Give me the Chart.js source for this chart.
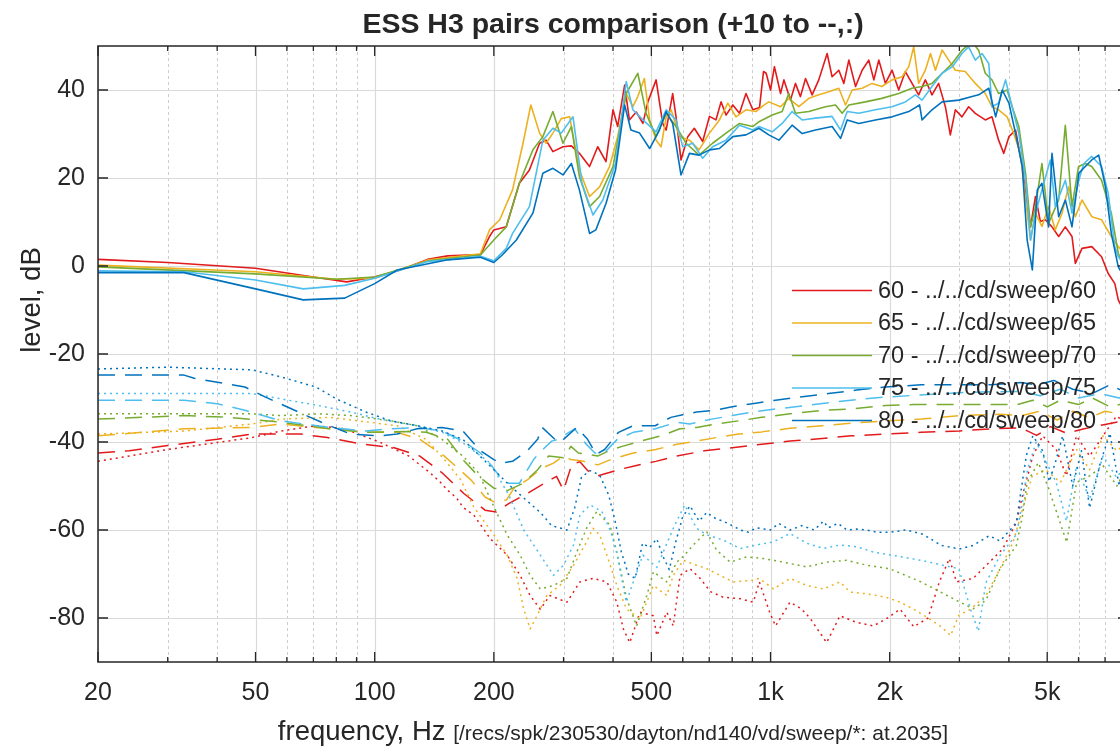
<!DOCTYPE html>
<html>
<head>
<meta charset="utf-8">
<title>ESS H3 pairs comparison</title>
<script src="https://cdn.jsdelivr.net/npm/chart.js@4.4.1/dist/chart.umd.min.js"></script>
<style>
  html, body { margin: 0; padding: 0; background: #ffffff; overflow: hidden; }
  #wrap { width: 1120px; height: 748px; overflow: hidden; position: relative; }
  canvas { display: block; }
</style>
</head>
<body>
<div id="wrap"><canvas id="plot" width="1132" height="748"></canvas></div>
<script>
// ---- axis ticks ----
const X_MIN = 20, X_MAX = 8000, Y_MIN = -90, Y_MAX = 50;
const xMajorTicks = [20, 50, 100, 200, 500, 1000, 2000, 5000];
const xTickLabels = ['20', '50', '100', '200', '500', '1k', '2k', '5k'];
const xMinorTicks = [30, 40, 60, 70, 80, 90, 300, 400, 600, 700, 800, 900, 3000, 4000, 6000, 7000];
const yTicks = [-80, -60, -40, -20, 0, 20, 40];

// ---- series names / colours ----
const legendNames = ['60 - ../../cd/sweep/60', '65 - ../../cd/sweep/65', '70 - ../../cd/sweep/70',
                     '75 - ../../cd/sweep/75', '80 - ../../cd/sweep/80'];
const seriesColors = ['#e31a1c', '#edb120', '#77ac30', '#4dbeee', '#0072bd'];

// ---- solid curves: frequency (Hz) / level (dB) ----
const F60s = [20, 30, 50, 70, 85, 100, 115, 136, 153, 185,
  195, 200, 215, 232, 246, 261, 271, 282, 299, 314,
  329, 349, 366, 384, 400, 411, 428, 440, 458, 476,
  490, 514, 534, 545, 566, 577, 594, 618, 642, 674,
  701, 728, 750, 772, 803, 835, 867, 902, 938, 960,
  975, 1000, 1023, 1060, 1081, 1123, 1156, 1190, 1226, 1274,
  1324, 1390, 1431, 1488, 1532, 1577, 1640, 1704, 1771, 1824,
  1877, 1951, 2028, 2108, 2191, 2278, 2367, 2461, 2558, 2659,
  2765, 2846, 2930, 3045, 3166, 3291, 3488, 3626, 3769, 3884,
  4002, 4160, 4325, 4410, 4538, 4670, 4806, 4946, 5141, 5345,
  5556, 5776, 5889, 6122, 6480, 6860, 7130, 7410, 7560, 8000];
const L60s = [1.5, 0.8, -0.5, -2.5, -3.6, -2.5, -1, 1.5, 2.3, 2.6,
  6.7, 8.2, 8.9, 18.8, 21.8, 27.9, 28.6, 26, 27.1, 27.3,
  25.6, 22.6, 27.1, 23.7, 35.5, 31.7, 41.1, 33.2, 35, 32.4,
  37.3, 42.3, 32.4, 30.9, 39.2, 34, 24.1, 29.4, 31.3, 28.3,
  34, 33.2, 37.3, 34.3, 36.6, 34.7, 39.2, 35.5, 36, 44.2,
  43.8, 40, 45.3, 39.2, 42.3, 37.7, 41.5, 38.5, 42.6, 38.9,
  42.3, 48.3, 43, 44.5, 41.5, 46.8, 40.8, 44.5, 46.8, 42.3,
  46.8, 41.5, 44.5, 40, 44.2, 41.5, 38.9, 42.3, 38.9, 41.5,
  36.2, 29.8, 35.5, 33.9, 36.2, 34.7, 33.2, 33.9, 28.6, 25.6,
  29.4, 30.9, 22.6, 16.5, 8.9, 15.8, 10.1, 10.5, 8.9, 6.7,
  8.9, 6.7, 0.6, 4, 4.4, 2.1, -1.7, -4, -7.7, -12];

const F65s = [20, 50, 80, 100, 137, 185, 195, 207, 223, 237,
  248, 261, 271, 282, 296, 311, 329, 349, 370, 392,
  411, 432, 449, 462, 480, 495, 514, 529, 545, 561,
  589, 624, 660, 701, 743, 780, 818, 867, 919, 960,
  990, 1060, 1112, 1179, 1250, 1325, 1404, 1488, 1547, 1608,
  1704, 1806, 1911, 2028, 2150, 2235, 2300, 2367, 2461, 2536,
  2610, 2713, 2820, 2930, 3104, 3291, 3488, 3626, 3769, 3960,
  4115, 4277, 4410, 4538, 4670, 4850, 5040, 5240, 5450, 5660,
  5889, 6122, 6480, 6860, 7260, 7560, 8000];
const L65s = [0.2, -1.3, -3, -2.8, 1.4, 2.8, 8.2, 10.5, 17.3, 27.9,
  36.6, 30.2, 27.9, 30.2, 33.5, 33.9, 21.8, 15.8, 18, 22.6,
  29.4, 39.2, 36.2, 38.5, 42.6, 33.2, 28.6, 27.1, 33.9, 35.5,
  29.4, 28.6, 26.4, 30.2, 33.2, 37, 33.9, 35.5, 35.1, 36.5,
  37.3, 36.2, 38.1, 36.2, 38.1, 38.9, 39.6, 40.4, 36.6, 40,
  40.4, 41.5, 40.8, 42.3, 43, 45.3, 49.8, 41.5, 44.5, 48.3,
  44.5, 49.1, 46.8, 44.5, 44.2, 41.5, 39.2, 36.2, 35.5, 33.9,
  30.1, 25.6, 15, 5.9, 12, 9, 13.5, 8.2, 12, 18,
  11.2, 15, 11.2, 10.5, 6.7, 4.4, 2];

const F70s = [20, 50, 80, 100, 137, 185, 200, 215, 232, 251,
  266, 282, 299, 314, 329, 349, 370, 400, 432, 462,
  485, 514, 545, 577, 612, 660, 714, 772, 835, 902,
  935, 1010, 1070, 1112, 1156, 1250, 1377, 1459, 1517, 1577,
  1737, 1911, 2108, 2278, 2414, 2558, 2713, 2877, 3045, 3230,
  3357, 3488, 3626, 3769, 3960, 4077, 4240, 4410, 4538, 4670,
  4850, 5040, 5345, 5556, 5776, 6000, 6240, 6480, 6860, 7260,
  7560, 8000];
const L70s = [-0.2, -1.8, -3, -2.5, 1.2, 2.5, 5.9, 8.9, 18.8, 26.4,
  29.4, 35.1, 27.9, 31.7, 20.3, 13.5, 15.8, 22.6, 39.2, 43.8,
  34.7, 29.4, 34.7, 31.7, 27.9, 25.2, 27.9, 30.2, 32.4, 31.7,
  32.8, 34.3, 35.1, 39.2, 34.7, 35.1, 36.2, 36.6, 34.7, 36.6,
  37.3, 38.1, 39.2, 40.4, 40.8, 41.5, 43.8, 46, 49, 51,
  49, 43.8, 42.3, 39.2, 40, 36.2, 31.7, 21, 8.9, 13.5,
  23.3, 9.7, 15, 32, 13.5, 22.6, 23.3, 22.6, 19.5, 12,
  2.9, -2];

const F75s = [20, 33, 50, 66, 84, 100, 136, 185, 200, 215,
  223, 246, 266, 282, 296, 317, 334, 356, 377, 406,
  432, 449, 476, 514, 545, 577, 600, 636, 674, 714,
  772, 835, 902, 935, 1010, 1070, 1134, 1202, 1299, 1430,
  1503, 1562, 1671, 1841, 2028, 2191, 2324, 2414, 2558, 2713,
  2880, 3045, 3166, 3291, 3423, 3560, 3626, 3769, 3924, 4077,
  4240, 4410, 4538, 4670, 4850, 5091, 5240, 5556, 5776, 6010,
  6190, 6480, 6860, 7130, 7410, 7560, 8000];
const L75s = [-1.1, -1.3, -3.2, -5.2, -4.4, -2.8, 1, 2.2, 1.2, 4,
  7.4, 13.5, 28.6, 31.3, 30.2, 33.9, 18.8, 11.6, 15, 23.3,
  41.9, 35.5, 33.2, 30.5, 35.5, 33.2, 27.1, 27.9, 24.5, 27.1,
  28.6, 32, 30.9, 31.7, 30.5, 32.4, 35.1, 33.2, 33.6, 34,
  30.9, 35.1, 34.7, 35.5, 36.2, 37.3, 38.9, 37.7, 40.8, 43.8,
  45.3, 48.3, 49.8, 46.8, 48.3, 46, 36.2, 37, 42.3, 36.2,
  30.1, 19.5, 5.9, 12, 17.3, 24.1, 13.5, 19.5, 12, 19.5,
  23.3, 24.9, 22.6, 16.5, 4.4, 2.1, -1];

const F80s = [20, 33, 50, 66, 84, 100, 114, 153, 185, 200,
  210, 228, 251, 266, 282, 299, 314, 329, 349, 362,
  384, 406, 428, 444, 467, 495, 524, 545, 566, 594,
  624, 660, 701, 743, 803, 867, 935, 990, 1050, 1134,
  1202, 1299, 1431, 1503, 1562, 1671, 1841, 2028, 2235, 2380,
  2414, 2558, 2713, 2990, 3230, 3357, 3560, 3705, 3850, 4002,
  4160, 4325, 4450, 4586, 4720, 4850, 5040, 5141, 5345, 5556,
  5776, 6010, 6240, 6480, 6747, 7017, 7260, 7560, 8000];
const L80s = [-1.5, -1.5, -5.2, -7.7, -7.3, -4, -0.9, 1.4, 2, 0.8,
  2.5, 5.9, 12, 21.1, 22.2, 20.7, 23.3, 17.3, 7.4, 8.2,
  14.2, 21.8, 36.6, 30.9, 30.2, 26.7, 30.9, 35.1, 32.4, 20.7,
  25.6, 25.2, 26.4, 26.7, 29.4, 29.8, 31.3, 29.8, 28.6, 32,
  30.1, 30.9, 31.7, 29, 33.2, 32.4, 33.2, 33.9, 35.1, 36.6,
  33.2, 35.5, 37.3, 37.7, 38.5, 38.9, 40.4, 33.9, 40, 37,
  30.1, 22.6, 5.9, -0.9, 17.3, 18.8, 8.9, 25.6, 11.2, 15,
  8.9, 21.1, 22.6, 24.1, 25.2, 18, 7.4, -0.2, -4];

// ---- dashed curves ----
const F60d = [20, 24, 30, 40, 49, 65, 76, 93, 112, 130,
  148, 168, 190, 203, 218, 243, 268, 288, 300, 315,
  330, 345, 366, 413, 450, 513, 580, 680, 800, 950,
  1120, 1350, 1600, 1950, 2400, 3000, 3600, 4300, 4700, 5100,
  5600, 6200, 7000, 8000];
const L60d = [-42.5, -42, -40.8, -39.4, -38.2, -38.2, -39, -40.5, -41.3, -43.2,
  -47, -51.7, -55.5, -55.9, -54, -51.7, -49.4, -47.8, -51, -45,
  -44.5, -46.5, -47.7, -46.3, -45.5, -44.4, -43.2, -42, -41.3, -40.5,
  -39.8, -39.2, -38.6, -38.2, -37.8, -37.5, -37, -36.8, -38.5, -36.5,
  -38, -37, -36, -35];

const F65d = [20, 33, 49, 58, 77, 95, 114, 130, 150, 175,
  190, 200, 215, 225, 243, 265, 283, 300, 313, 338,
  366, 395, 450, 513, 580, 650, 730, 830, 950, 1120,
  1350, 1600, 1950, 2400, 3000, 3800, 4300, 4800, 5300, 5800,
  6400, 7000, 8000];
const L65d = [-38.6, -37, -36.7, -35.9, -37, -37.8, -37.8, -39.4, -43.2, -48.6,
  -52.5, -53.6, -53.2, -50.5, -48.6, -45.9, -44.8, -43.2, -44, -44.4,
  -45.2, -44, -42.5, -41.7, -40.5, -39.8, -39, -38.2, -37.7, -36.9,
  -36.3, -35.7, -35.2, -34.8, -34, -33.7, -34, -33, -35, -33,
  -34.5, -33, -34];

const F70d = [20, 33, 43, 58, 77, 95, 118, 135, 153, 167,
  183, 200, 217, 237, 258, 275, 300, 313, 327, 345,
  366, 390, 422, 470, 530, 590, 650, 730, 830, 950,
  1120, 1350, 1600, 1950, 2300, 3000, 4200, 4600, 5000, 5400,
  6000, 6500, 7200, 8000];
const L70d = [-34.8, -34, -34.4, -35.5, -37, -37.8, -37.6, -37.8, -39.4, -44,
  -47.8, -50.5, -51, -49.4, -46.3, -43.2, -43.6, -41, -42.5, -42.8,
  -43.2, -42, -41, -39.8, -38.6, -37, -36.7, -35.9, -35.2, -34.4,
  -33.6, -32.8, -32.5, -31.7, -31.5, -31.5, -31.5, -30.5, -32, -30.5,
  -31.5, -30, -32, -31];

const F75d = [20, 33, 40, 47, 58, 77, 95, 110, 128, 148,
  167, 185, 195, 207, 218, 232, 252, 266, 280, 290,
  320, 340, 360, 380, 410, 450, 512, 580, 625, 710,
  800, 900, 1030, 1230, 1450, 1720, 1950, 2500, 3000, 3600,
  4300, 4800, 5400, 6000, 6800, 7600, 8000];
const L75d = [-30.5, -30.5, -31.3, -32.8, -35.2, -36.7, -37.5, -37, -36.7, -37.5,
  -39.8, -42.5, -44.8, -47.8, -49.4, -49.4, -44, -41.7, -39.8, -39.4,
  -37, -40.2, -42.5, -42.5, -39.4, -37.8, -37, -35.5, -35.9, -34.8,
  -34, -33.2, -32.5, -31.7, -30.9, -30.2, -29.8, -29.2, -28.8, -28.6,
  -28.5, -29.5, -28, -30, -29, -30, -29];

const F80d = [20, 33, 35, 47, 53, 60, 75, 87, 103, 114,
  128, 148, 167, 185, 200, 208, 223, 243, 258, 265,
  290, 300, 324, 345, 363, 381, 413, 450, 511, 560,
  600, 650, 720, 800, 900, 1030, 1180, 1400, 1650, 1950,
  2400, 3000, 3600, 4300, 4700, 5200, 5800, 6500, 7200, 8000];
const L80d = [-24.8, -24.8, -25.5, -27.5, -29.8, -32, -35.9, -38.2, -38.6, -38.2,
  -37, -36.7, -37.5, -42, -44, -44.8, -44.4, -42, -39.4, -36.7,
  -40, -39.4, -36.7, -39.4, -42.8, -41.7, -37.8, -36.3, -36.3, -34.4,
  -33.8, -33.2, -32.8, -32, -31.3, -30.5, -29.8, -29, -28.2, -27.5,
  -27, -27, -27, -26.5, -27, -26, -28, -29, -27, -29];

// ---- dotted curves ----
const F60p = [20, 30, 49, 58, 71, 84, 104, 122, 138, 146,
  153, 161, 167, 178, 196, 216, 233, 247, 262, 277,
  306, 330, 356, 386, 409, 425, 441, 468, 506, 516,
  547, 568, 591, 626, 664, 705, 760, 838, 905, 937,
  995, 1030, 1120, 1200, 1262, 1386, 1498, 1650, 1818, 1960,
  2124, 2300, 2500, 2670, 2830, 2950, 3250, 3575, 3860, 4180,
  4330, 4600, 4870, 5270, 5590, 5930, 6400, 6920, 7480, 8000];
const L60p = [-44.4, -41.7, -39, -37.5, -36.3, -37, -40.2, -43.2, -47, -49,
  -51, -52.7, -54.8, -56.6, -62, -65.7, -70.3, -74.9, -78, -74.9,
  -76.4, -71.8, -71, -71.8, -76.4, -82.5, -85.6, -78.7, -79.5, -84,
  -78.7, -81.8, -70.3, -68.8, -71, -74, -75.3, -75.6, -76.4, -71.8,
  -78.7, -81.8, -76.4, -78, -80.2, -85.6, -79.5, -81, -81.8, -80.2,
  -78, -82, -80, -71.8, -66.5, -71.8, -71, -67.3, -64.3, -58.3,
  -52.2, -43.2, -38.6, -41.7, -47.7, -38.6, -43.2, -38.6, -34.1, -36];

const F65p = [20, 33, 49, 58, 77, 97, 114, 135, 150, 165,
  178, 200, 216, 229, 238, 247, 257, 272, 294, 318,
  343, 356, 370, 386, 409, 433, 468, 506, 547, 568,
  602, 650, 690, 745, 805, 889, 937, 1017, 1120, 1234,
  1360, 1498, 1588, 1750, 1960, 2124, 2300, 2500, 2700, 2850,
  2990, 3200, 3500, 3800, 4100, 4330, 4580, 4950, 5400, 5930,
  6400, 6920, 7500, 8000];
const L65p = [-38.2, -37.5, -35.9, -34.8, -34.4, -35.5, -36.3, -39.4, -44, -48.6,
  -54.8, -61.1, -65.7, -71, -78, -82.5, -79.5, -74.9, -72.6, -68,
  -62.7, -59.6, -61.1, -65.7, -72.6, -78, -80.2, -72.6, -74.9, -70.3,
  -66.9, -68, -68.8, -70.3, -71.8, -71.5, -71, -73.4, -71, -72.6,
  -73.4, -71.8, -74.1, -74.5, -75.3, -76.4, -78, -80, -82, -84,
  -79.4, -78, -74.9, -68.8, -62.8, -55.3, -47.8, -46.3, -49.2, -41.7,
  -46.3, -38.6, -42, -40];

const F70p = [20, 49, 58, 72, 87, 110, 128, 148, 167, 183,
  196, 216, 233, 247, 262, 283, 306, 324, 343, 364,
  393, 409, 433, 459, 487, 506, 547, 580, 602, 638,
  690, 731, 791, 871, 960, 1077, 1234, 1386, 1557, 1750,
  2000, 2400, 2950, 3250, 3500, 3800, 4180, 4330, 4450, 4750,
  5050, 5600, 5930, 6400, 6920, 7500, 8000];
const L70p = [-33.6, -33.6, -34, -33.6, -34, -35.2, -36.3, -39.4, -43.2, -47,
  -53, -61.1, -65.7, -70.3, -73.4, -72.6, -71, -65, -59.6, -55.8,
  -58.9, -65, -75.6, -81.8, -74.9, -69.5, -71.8, -67.3, -66, -63.4,
  -60.4, -64.6, -67.3, -66.1, -66.5, -67.3, -68.4, -67.3, -66.9, -68,
  -68.8, -71.8, -76, -77.9, -76, -68.8, -63.5, -56.8, -49.2, -44.7,
  -50.7, -62.8, -49.2, -47.7, -45.4, -50, -45];

const F75p = [20, 49, 58, 72, 87, 103, 128, 148, 167, 196,
  218, 238, 262, 283, 300, 318, 330, 350, 375, 395,
  410, 432, 447, 476, 516, 568, 607, 650, 690, 760,
  838, 923, 1017, 1120, 1234, 1360, 1498, 1650, 1818, 2050,
  2430, 2990, 3200, 3350, 3500, 3800, 4180, 4330, 4460, 4690,
  5270, 5590, 5930, 6400, 6920, 7480, 8000];
const L75p = [-29, -29, -30.2, -31.7, -33.2, -34.8, -36.3, -37.8, -40.2, -44.8,
  -52, -60, -65.7, -70.3, -68, -63.4, -56.6, -54.3, -55.8, -60.4,
  -65.7, -76.4, -72.6, -65.7, -68.5, -59.6, -54.3, -59.6, -61.1, -62.3,
  -64.2, -63.4, -62.7, -60.8, -63, -64.2, -63.4, -63.8, -65, -65.8,
  -67, -68.8, -78, -83, -72, -65.8, -61, -53.7, -46.2, -40,
  -49.2, -58, -45.5, -53, -43.2, -48, -45];

const F80p = [20, 30, 49, 58, 71, 80, 95, 110, 128, 148,
  167, 196, 220, 240, 262, 280, 306, 320, 333, 350,
  370, 390, 405, 420, 437, 455, 475, 495, 516, 535,
  555, 575, 600, 626, 660, 690, 730, 760, 800, 840,
  880, 920, 1000, 1050, 1120, 1200, 1290, 1360, 1400, 1480,
  1560, 1650, 1750, 1850, 2000, 2200, 2430, 2700, 3000, 3250,
  3570, 3800, 4030, 4180, 4300, 4430, 4600, 4870, 5060, 5270,
  5470, 5800, 6100, 6400, 6800, 7200, 7600, 8000];
const L80p = [-23.4, -23, -23.6, -25.2, -27.5, -30.2, -33.2, -35.2, -36.3, -37.5,
  -39.4, -45.5, -50, -53, -56, -59, -60, -55, -48, -46.5,
  -47.5, -52, -58, -65, -70, -71, -63, -64, -62, -66,
  -69, -63, -57, -54.5, -58, -56, -57.5, -58, -59, -60,
  -60.5, -59.5, -60, -58.5, -60, -59, -60, -58, -59.5, -58.5,
  -60, -59.8, -60, -60.5, -60.5, -60, -61, -63.5, -64.3, -63.5,
  -61.3, -62.5, -60, -58.3, -50.7, -43, -38.6, -42, -49, -44,
  -38.6, -50, -42, -55, -45, -38, -50, -42];

// ---- styling ----
const FONT = '"Liberation Sans", Arial, Helvetica, sans-serif';
const INK = '#262626';
const GRID_MAJOR = '#dadada';
const GRID_MINOR = '#cdcdcd';
const STYLES = {
  solid:  { dash: [],      width: 1.6 },
  dashed: { dash: [17, 10], width: 1.5 },
  dotted: { dash: [2, 4],   width: 1.5 }
};

const curves = [
  { solid: [F60s, L60s], dashed: [F60d, L60d], dotted: [F60p, L60p] },
  { solid: [F65s, L65s], dashed: [F65d, L65d], dotted: [F65p, L65p] },
  { solid: [F70s, L70s], dashed: [F70d, L70d], dotted: [F70p, L70p] },
  { solid: [F75s, L75s], dashed: [F75d, L75d], dotted: [F75p, L75p] },
  { solid: [F80s, L80s], dashed: [F80d, L80d], dotted: [F80p, L80p] }
];

function toPoints(freqs, levels) {
  const n = Math.min(freqs.length, levels.length);
  const out = [];
  for (let i = 0; i < n; i++) out.push({ x: freqs[i], y: levels[i] });
  return out;
}

// later series are painted over earlier ones
const datasets = [];
curves.forEach((c, s) => {
  ['solid', 'dashed', 'dotted'].forEach((kind, k) => {
    const st = STYLES[kind];
    datasets.push({
      label: kind === 'solid' ? legendNames[s] : legendNames[s] + ' ' + kind,
      data: toPoints(c[kind][0], c[kind][1]),
      borderColor: seriesColors[s],
      borderWidth: st.width,
      borderDash: st.dash,
      borderCapStyle: 'butt',
      borderJoinStyle: 'round',
      pointRadius: 0,
      fill: false,
      tension: 0,
      order: (4 - s) * 3 + k
    });
  });
});

// grid, box, inward ticks, legend and titles
const framePlugin = {
  id: 'frame',
  beforeDatasetsDraw(chart) {
    const { ctx, chartArea: a, scales: { x, y } } = chart;
    ctx.save();
    ctx.beginPath();
    ctx.rect(a.left, a.top, a.right - a.left, a.bottom - a.top);
    ctx.clip();
    ctx.lineWidth = 1;
    ctx.strokeStyle = GRID_MINOR;
    ctx.setLineDash([3, 3]);
    xMinorTicks.forEach(v => {
      const px = Math.round(x.getPixelForValue(v)) + 0.5;
      ctx.beginPath(); ctx.moveTo(px, a.top); ctx.lineTo(px, a.bottom); ctx.stroke();
    });
    ctx.setLineDash([]);
    ctx.strokeStyle = GRID_MAJOR;
    ctx.lineWidth = 1.2;
    xMajorTicks.forEach(v => {
      const px = Math.round(x.getPixelForValue(v)) + 0.5;
      ctx.beginPath(); ctx.moveTo(px, a.top); ctx.lineTo(px, a.bottom); ctx.stroke();
    });
    yTicks.forEach(v => {
      const py = Math.round(y.getPixelForValue(v)) + 0.5;
      ctx.beginPath(); ctx.moveTo(a.left, py); ctx.lineTo(a.right, py); ctx.stroke();
    });
    ctx.restore();
  },
  afterDatasetsDraw(chart) {
    const { ctx, chartArea: a, scales: { x, y } } = chart;
    ctx.save();
    // axes box
    ctx.strokeStyle = INK;
    ctx.lineWidth = 1.5;
    ctx.beginPath();
    ctx.moveTo(a.right, a.top); ctx.lineTo(a.left, a.top);
    ctx.lineTo(a.left, a.bottom); ctx.lineTo(a.right, a.bottom);
    ctx.lineTo(a.right, a.top);
    ctx.stroke();
    // inward ticks
    ctx.lineWidth = 1.3;
    const tick = (v, len) => {
      const px = x.getPixelForValue(v);
      ctx.beginPath();
      ctx.moveTo(px, a.bottom); ctx.lineTo(px, a.bottom - len);
      ctx.moveTo(px, a.top); ctx.lineTo(px, a.top + len);
      ctx.stroke();
    };
    xMajorTicks.forEach(v => tick(v, 10));
    xMinorTicks.forEach(v => tick(v, 5));
    yTicks.forEach(v => {
      const py = y.getPixelForValue(v);
      ctx.beginPath();
      ctx.moveTo(a.left, py); ctx.lineTo(a.left + 10, py);
      ctx.moveTo(a.right, py); ctx.lineTo(a.right - 10, py);
      ctx.stroke();
    });

    // legend (inside the axes, no box)
    ctx.font = '23.5px ' + FONT;
    ctx.textBaseline = 'middle';
    ctx.textAlign = 'left';
    legendNames.forEach((name, i) => {
      const ly = 290.5 + 32.5 * i;
      ctx.strokeStyle = seriesColors[i];
      ctx.lineWidth = 1.6;
      ctx.beginPath(); ctx.moveTo(792, ly); ctx.lineTo(872, ly); ctx.stroke();
      ctx.fillStyle = INK;
      ctx.fillText(name, 878, ly + 1);
    });

    // title
    const cx = (a.left + a.right) / 2;
    ctx.fillStyle = INK;
    ctx.textAlign = 'center';
    ctx.textBaseline = 'alphabetic';
    ctx.font = 'bold 28.5px ' + FONT;
    ctx.fillText('ESS H3 pairs comparison (+10 to --,:)', cx, 33);

    // x axis title (label + source path in smaller type)
    const main = 'frequency, Hz ';
    const path = '[/recs/spk/230530/dayton/nd140/vd/sweep/*: at.2035]';
    ctx.font = '27.5px ' + FONT;
    const w1 = ctx.measureText(main).width;
    ctx.font = '21px ' + FONT;
    const w2 = ctx.measureText(path).width;
    let sx = cx - (w1 + w2) / 2;
    ctx.textAlign = 'left';
    ctx.font = '27.5px ' + FONT;
    ctx.fillText(main, sx, 740);
    ctx.font = '21px ' + FONT;
    ctx.fillText(path, sx + w1, 740);

    // y axis title
    ctx.translate(40, 300);
    ctx.rotate(-Math.PI / 2);
    ctx.textAlign = 'center';
    ctx.font = '27.5px ' + FONT;
    ctx.fillText('level, dB', 0, 0);
    ctx.restore();
  }
};

new Chart(document.getElementById('plot'), {
  type: 'line',
  data: { datasets },
  options: {
    responsive: false,
    animation: false,
    devicePixelRatio: 1,
    parsing: false,
    normalized: true,
    layout: { padding: { top: 46, right: 4, left: 0, bottom: 0 } },
    plugins: { legend: { display: false }, tooltip: { enabled: false }, title: { display: false } },
    scales: {
      x: {
        type: 'logarithmic',
        min: X_MIN, max: X_MAX,
        afterBuildTicks: s => { s.ticks = xMajorTicks.map(v => ({ value: v })); },
        afterFit: s => { s.height = 86; },
        grid: { display: false, drawTicks: false },
        border: { display: false },
        ticks: {
          autoSkip: false, maxRotation: 0, padding: 16,
          color: INK, font: { family: FONT, size: 25 },
          callback: v => { const i = xMajorTicks.indexOf(v); return i >= 0 ? xTickLabels[i] : ''; }
        }
      },
      y: {
        type: 'linear',
        min: Y_MIN, max: Y_MAX,
        afterBuildTicks: s => { s.ticks = yTicks.map(v => ({ value: v })); },
        afterFit: s => { s.width = 98; },
        grid: { display: false, drawTicks: false },
        border: { display: false },
        ticks: {
          padding: 13, color: INK, font: { family: FONT, size: 25 },
          callback: v => String(v)
        }
      }
    }
  },
  plugins: [framePlugin]
});
</script>
</body>
</html>
